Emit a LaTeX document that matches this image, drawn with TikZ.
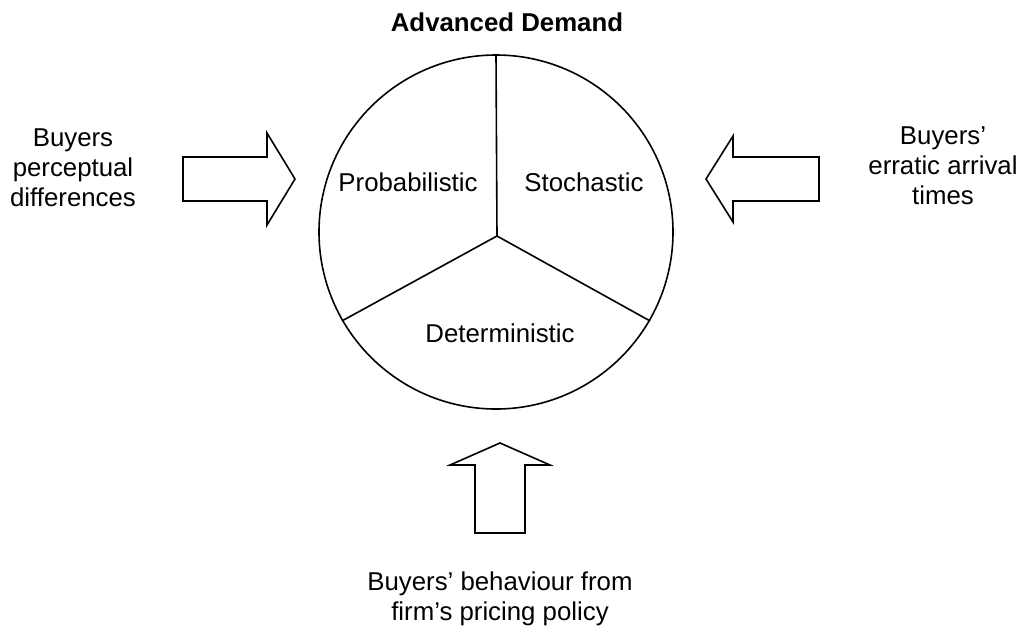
\documentclass[tikz,border=0pt]{standalone}
\usepackage{fontspec}
\setmainfont{Liberation Sans}
\begin{document}
\begin{tikzpicture}[x=0.5pt, y=-0.5pt, line width=0.8pt,
				lbl/.style={inner sep=0, align=center, font=\fontsize{12.9pt}{15pt}\selectfont},
				blockarrow/.style={draw=black, fill=white, line join=miter}]
				
				\useasboundingbox (0,0) rectangle (1024,634);
				
				\begin{scope}
				\node [circle, draw, minimum size=177pt, inner sep=0] (disc) at (496,232) {};
				\coordinate (hub) at (497,236);
				\draw (hub) -- (disc.north);
				\draw (hub) -- (disc.210);
				\draw (hub) -- (disc.330);
				\node [lbl, anchor=base] (prob) at (408,191) {Probabilistic};
				\node [lbl, anchor=base] (stoch) at (584,191) {Stochastic};
				\node [lbl, anchor=base] (det) at (500,342) {Deterministic};
				\end{scope}
				
				\node [lbl, anchor=base, font=\fontsize{12.9pt}{15pt}\selectfont\bfseries] (title) at (507,31) {Advanced Demand};
				
				\draw [blockarrow] (183,157) -- (267,157) -- (267,133) -- (295,179) -- (267,225) -- (267,201) -- (183,201) -- cycle;
				\draw [blockarrow] (819,157) -- (733,157) -- (733,136) -- (706,179) -- (733,222) -- (733,201) -- (819,201) -- cycle;
				\draw [blockarrow] (500,443) -- (550,465) -- (525,465) -- (525,533) -- (475,533) -- (475,465) -- (450,465) -- cycle;
				
				\node [lbl] (perc) at (73,168) {Buyers\\perceptual\\differences};
				\node [lbl] (arrival) at (943,166) {Buyers’\\erratic arrival\\times};
				\node [lbl] (pricing) at (500,599) {Buyers’ behaviour from\\firm’s pricing policy};
				\end{tikzpicture}
\end{document}
